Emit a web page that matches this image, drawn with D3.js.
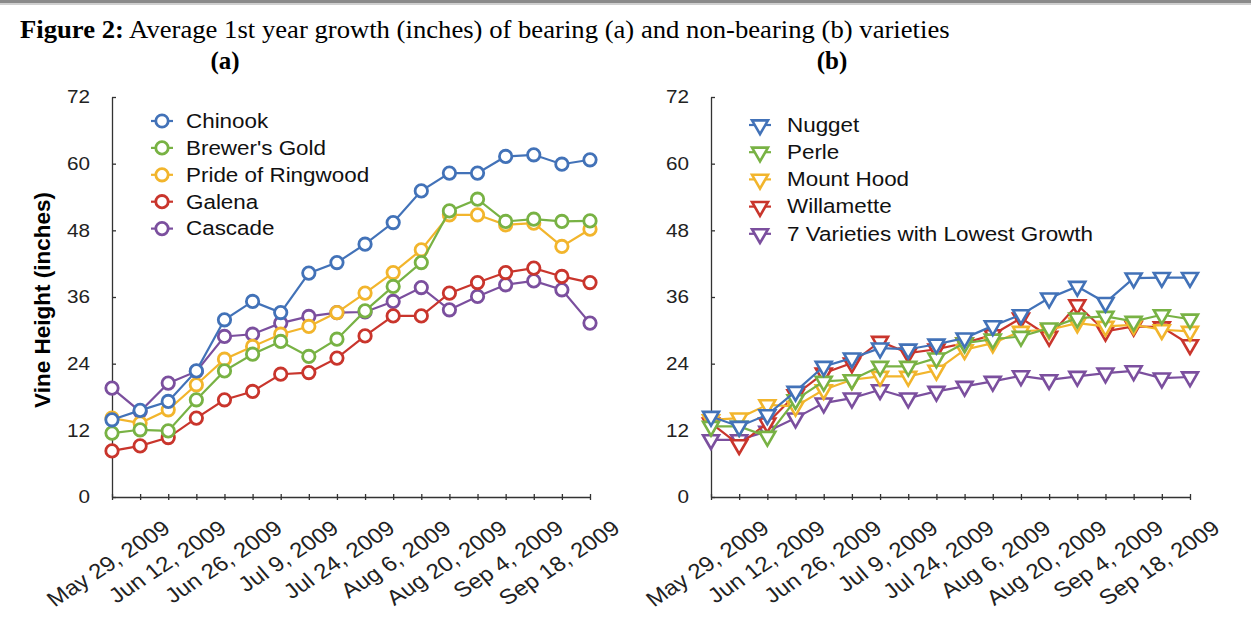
<!DOCTYPE html>
<html>
<head>
<meta charset="utf-8">
<script src="https://cdn.jsdelivr.net/npm/d3@7"></script>
<style>
  body { margin: 0; background: #fff; }
  svg { display: block; }
</style>
</head>
<body>
<div id="fig"></div>
<script>
/* observation dates (weekly), only every second one is labelled */
const dates = ["May 22, 2009", "May 29, 2009", "Jun 5, 2009", "Jun 12, 2009", "Jun 19, 2009", "Jun 26, 2009",
    "Jul 2, 2009", "Jul 9, 2009", "Jul 16, 2009", "Jul 24, 2009", "Jul 31, 2009", "Aug 6, 2009",
    "Aug 13, 2009", "Aug 20, 2009", "Aug 27, 2009", "Sep 4, 2009", "Sep 11, 2009", "Sep 18, 2009"];
const labelledDates = ["May 29, 2009", "Jun 12, 2009", "Jun 26, 2009", "Jul 9, 2009", "Jul 24, 2009",
    "Aug 6, 2009", "Aug 20, 2009", "Sep 4, 2009", "Sep 18, 2009"];
const yTicks = [0, 12, 24, 36, 48, 60, 72];

/* (a) bearing varieties */
const namesA = ["Chinook", "Brewer's Gold", "Pride of Ringwood", "Galena", "Cascade"];
const chinook = [13.9, 15.6, 17.2, 22.7, 31.9, 35.2, 33.2, 40.3, 42.2, 45.5, 49.4, 55.1, 58.3, 58.3, 61.3, 61.6, 59.9, 60.7];
const brewersGold = [11.5, 12.1, 11.9, 17.5, 22.7, 25.7, 28.0, 25.3, 28.4, 33.5, 37.9, 42.2, 51.5, 53.6, 49.6, 50.0, 49.6, 49.7];
const prideOfRingwood = [14.2, 13.3, 15.7, 20.2, 24.8, 27.1, 29.3, 30.7, 33.2, 36.7, 40.4, 44.5, 50.8, 50.8, 49.0, 49.3, 45.1, 48.2];
const galena = [8.3, 9.2, 10.7, 14.2, 17.5, 19.0, 22.1, 22.4, 25.0, 29.0, 32.6, 32.6, 36.7, 38.6, 40.4, 41.2, 39.7, 38.6];
const cascade = [19.6, 15.4, 20.5, 22.6, 28.9, 29.3, 31.3, 32.5, 33.2, 33.3, 35.2, 37.7, 33.7, 36.1, 38.2, 38.9, 37.3, 31.3];

/* (b) non-bearing varieties */
const namesB = ["Nugget", "Perle", "Mount Hood", "Willamette", "7 Varieties with Lowest Growth"];
const nugget = [14.5, 12.7, 14.8, 19.0, 23.5, 25.0, 26.8, 26.6, 27.5, 28.6, 30.8, 32.8, 35.8, 37.9, 35.0, 39.4, 39.5, 39.5];
const perle = [12.7, 12.7, 10.9, 17.5, 20.8, 21.1, 23.5, 23.5, 25.0, 27.7, 28.4, 28.9, 30.4, 32.2, 32.5, 31.6, 32.8, 32.0];
const mountHood = [13.9, 14.2, 16.6, 16.3, 19.3, 21.1, 21.7, 21.7, 22.8, 26.5, 27.7, 29.8, 30.1, 31.3, 30.7, 31.0, 30.1, 29.8];
const willamette = [13.3, 9.4, 13.3, 18.4, 22.3, 24.1, 28.0, 25.9, 26.6, 27.7, 29.2, 32.2, 28.9, 34.6, 29.8, 30.7, 30.6, 27.4];
const lowest7 = [10.3, 10.3, 11.8, 14.2, 16.9, 17.8, 19.3, 17.8, 19.0, 19.9, 20.8, 21.8, 21.1, 21.7, 22.3, 22.7, 21.4, 21.6];

const colors = ["#4272b8", "#78b244", "#f2b52c", "#c9352c", "#7b4f9e"];

const width = 1251, height = 639;
const sans = "'Liberation Sans', Arial, Helvetica, sans-serif";
const serif = "'Liberation Serif', 'Times New Roman', serif";
const stretch = 1.15; // the chart lettering in the source is a little wide

const svg = d3.select("#fig").append("svg")
    .attr("width", width)
    .attr("height", height);

// widen a text horizontally about its own anchor point
function widen(sel, s = stretch) {
    sel.attr("transform", function () {
        const ax = +d3.select(this).attr("x") || 0;
        const ay = +d3.select(this).attr("y") || 0;
        return `translate(${ax},${ay}) scale(${s},1) translate(${-ax},${-ay})`;
    });
}

/* grey rule at the top of the page */
svg.append("rect").attr("x", 0).attr("y", 0).attr("width", width).attr("height", 3).attr("fill", "#8a8a8a");
svg.append("rect").attr("x", 0).attr("y", 3).attr("width", width).attr("height", 2).attr("fill", "#cfcfcf");

/* caption */
const cap = svg.append("text")
    .attr("x", 20).attr("y", 38)
    .style("font-family", serif).style("font-size", "26px").attr("fill", "#000");
cap.append("tspan").style("font-weight", "bold").text("Figure 2:");
cap.append("tspan").text(" Average 1st year growth (inches) of bearing (a) and non-bearing (b) varieties");
widen(cap, 930 / cap.node().getComputedTextLength());

svg.append("text").attr("x", 225).attr("y", 69).attr("text-anchor", "middle")
    .style("font-family", serif).style("font-size", "25px").style("font-weight", "bold").text("(a)");
svg.append("text").attr("x", 832).attr("y", 69).attr("text-anchor", "middle")
    .style("font-family", serif).style("font-size", "25px").style("font-weight", "bold").text("(b)");

/* y axis title (shared, only on the left panel) */
svg.append("text")
    .attr("transform", "translate(50,300) rotate(-90)")
    .attr("text-anchor", "middle")
    .style("font-family", sans).style("font-size", "22.5px").style("font-weight", "bold")
    .text("Vine Height (inches)");

function drawPanel(opts) {
    const x = d3.scalePoint().domain(dates).range([opts.left, opts.right]);
    const y = d3.scaleLinear().domain([0, 72]).range([497, 97]);

    const g = svg.append("g");

    // y axis, ticks pointing inward
    const yAxis = g.append("g")
        .attr("transform", `translate(${opts.left},0)`)
        .call(d3.axisLeft(y).tickValues(yTicks).tickSize(-4).tickSizeOuter(0).tickPadding(22));
    yAxis.select(".domain").attr("stroke", "#333").attr("stroke-width", 1.3);
    yAxis.selectAll(".tick line").attr("stroke", "#333").attr("stroke-width", 1.3);
    yAxis.selectAll("text")
        .style("font-family", sans).style("font-size", "18px").attr("fill", "#222")
        .call(widen);

    // x axis, ticks crossing the line
    const xAxis = g.append("g")
        .attr("transform", `translate(0,${y(0)})`)
        .call(d3.axisBottom(x).tickSize(3).tickSizeOuter(0)
            .tickFormat(d => labelledDates.includes(d) ? d : ""));
    xAxis.select(".domain").attr("stroke", "#333").attr("stroke-width", 1.3);
    xAxis.selectAll(".tick line").attr("y1", -3).attr("stroke", "#333").attr("stroke-width", 1.3);
    xAxis.selectAll("text")
        .style("font-family", sans).style("font-size", "21px").attr("fill", "#222")
        .style("text-anchor", "end")
        .attr("y", 0).attr("dy", 0)
        .attr("transform", `translate(31,34) scale(${stretch},1) rotate(-37)`);

    // series, last legend entry drawn first
    const line = d3.line().x((d, i) => x(dates[i])).y(d => y(d));
    const order = d3.range(opts.series.length).reverse();
    order.forEach(k => {
        const vals = opts.series[k];
        const sg = g.append("g");
        sg.append("path")
            .datum(vals)
            .attr("d", line)
            .attr("fill", "none")
            .attr("stroke", colors[k])
            .attr("stroke-width", 2.2);
        opts.marker(sg.selectAll(".m").data(vals).join(opts.markerTag), k)
            .attr("class", "m")
            .attr("transform", (d, i) => `translate(${x(dates[i])},${y(d)})${opts.markerRotate}`);
    });

    // legend
    const lg = g.append("g");
    opts.names.forEach((name, k) => {
        const ly = opts.legendY + k * opts.legendStep;
        const row = lg.append("g").attr("transform", `translate(${opts.legendX},${ly})`);
        row.append("line").attr("x1", -11).attr("x2", 11)
            .attr("stroke", colors[k]).attr("stroke-width", 2.2);
        opts.marker(row.append(opts.markerTag), k)
            .attr("transform", opts.markerRotate);
        row.append("text")
            .attr("x", opts.textOffset).attr("dy", "0.35em")
            .style("font-family", sans).style("font-size", "19.5px").attr("fill", "#111")
            .text(name)
            .call(widen);
    });
}

const circleMarker = (sel, k) => sel
    .attr("r", 6.2)
    .attr("fill", "#fff")
    .attr("stroke", colors[k])
    .attr("stroke-width", 2.8);

const triSymbol = d3.symbol().type(d3.symbolTriangle).size(110)();
const triangleMarker = (sel, k) => sel
    .attr("d", triSymbol)
    .attr("fill", "#fff")
    .attr("stroke", colors[k])
    .attr("stroke-width", 2.6);

drawPanel({
    left: 112, right: 590,
    series: [chinook, brewersGold, prideOfRingwood, galena, cascade],
    names: namesA,
    marker: circleMarker, markerTag: "circle", markerRotate: "",
    legendX: 162, legendY: 121, legendStep: 26.9, textOffset: 24
});

drawPanel({
    left: 711, right: 1190,
    series: [nugget, perle, mountHood, willamette, lowest7],
    names: namesB,
    marker: triangleMarker, markerTag: "path", markerRotate: " rotate(180)",
    legendX: 760, legendY: 125, legendStep: 27.2, textOffset: 27
});
</script>
</body>
</html>
